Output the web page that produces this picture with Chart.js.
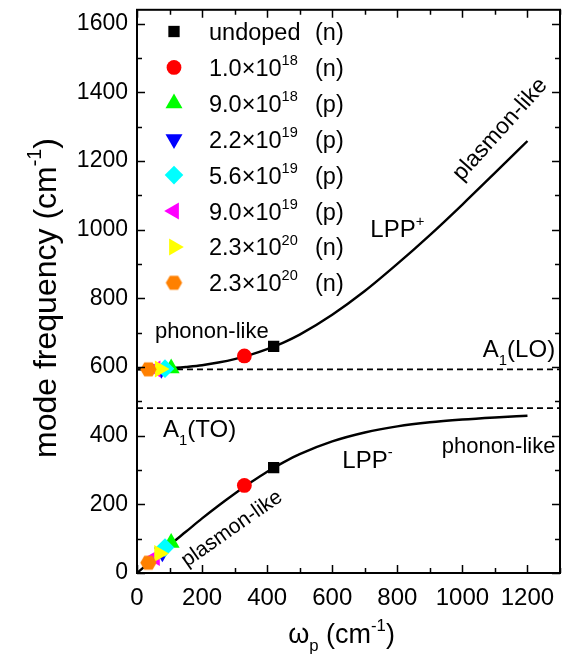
<!DOCTYPE html>
<html><head><meta charset="utf-8">
<script src="https://cdn.jsdelivr.net/npm/chart.js@4.4.0/dist/chart.umd.min.js"></script>
<style>html,body{margin:0;padding:0;background:#fff}#wrap{width:575px;height:660px;position:relative}</style>
</head><body><div id="wrap"><canvas id="c" width="575" height="660"></canvas></div>
<script>
// ---- data ----
const xTickLabels = ['0','200','400','600','800','1000','1200'];
const yTickLabels = ['0','200','400','600','800','1000','1200','1400','1600'];
const curveX   = [0, 50, 100, 150, 200, 250, 300, 350, 400, 450, 500, 600, 700, 800, 900, 1000, 1100, 1200];
const lppPlus  = [593, 594, 596, 600, 605, 613, 623, 636, 652, 671, 694, 752, 821, 900, 984, 1073, 1165, 1258];
const lppMinus = [0, 40, 81, 120, 159, 196, 231, 264, 295, 322, 346, 383, 409, 427, 439, 447, 453, 458];
const lineLO = 593;
const lineTO = 480;
const sampleBase = ['undoped', '1.0×10', '9.0×10', '2.2×10', '5.6×10', '9.0×10', '2.3×10', '2.3×10'];
const sampleExp  = ['', '18', '18', '19', '19', '19', '20', '20'];
const sampleType = ['(n)', '(n)', '(p)', '(p)', '(p)', '(p)', '(n)', '(n)'];
const plusX  = [420, 330, 105, 75, 86, 57, 70, 35];
const plusY  = [660, 632, 596, 594, 595, 594, 594, 593];
const minusX = [420, 330, 105, 78, 86, 55, 68, 35];
const minusY = [307, 255, 88, 60, 74, 45, 57, 30];

// ---- styles ----
const sampleColor = ['#000000', '#ff0000', '#00ff00', '#0000ff', '#00ffff', '#ff00ff', '#ffff00', '#ff8000'];
const FF = '"Liberation Sans", Arial, Helvetica, sans-serif';
const fnt = s => s + 'px ' + FF;

function hexCanvas(color, r) {
  const s = Math.ceil(2 * r + 2);
  const c = document.createElement('canvas'); c.width = s; c.height = s;
  const g = c.getContext('2d'); g.fillStyle = color; g.beginPath();
  for (let k = 0; k < 6; k++) { const a = Math.PI / 3 * k; g.lineTo(s / 2 + r * Math.cos(a), s / 2 + r * Math.sin(a)); }
  g.closePath(); g.fill(); return c;
}
const sampleStyle = [
  {pointStyle: 'rect', radius: 8, rotation: 0},
  {pointStyle: 'circle', radius: 7.4, rotation: 0},
  {pointStyle: 'triangle', radius: 9.8, rotation: 0},
  {pointStyle: 'triangle', radius: 9.8, rotation: 180},
  {pointStyle: 'rectRot', radius: 9.3, rotation: 0},
  {pointStyle: 'triangle', radius: 9.8, rotation: 270},
  {pointStyle: 'triangle', radius: 9.8, rotation: 90},
  {pointStyle: hexCanvas('#ff8000', 8.2), radius: 8.2, rotation: 0}
];

function partsWidth(ctx, parts, size) {
  let w = 0;
  for (const p of parts) { ctx.font = fnt(p[1] ? size * 0.62 : size); w += ctx.measureText(p[0]).width; }
  return w;
}
function drawParts(ctx, parts, x, y, size, align) {
  const w = partsWidth(ctx, parts, size);
  let cx = align === 'center' ? x - w / 2 : align === 'right' ? x - w : x;
  ctx.textAlign = 'left'; ctx.textBaseline = 'alphabetic'; ctx.fillStyle = '#000';
  for (const p of parts) {
    const m = p[1] || 0, s = m ? size * 0.62 : size;
    ctx.font = fnt(s);
    const dy = m === 1 ? -size * 0.46 : m === 2 ? size * 0.3 : 0;
    ctx.fillText(p[0], cx, y + dy);
    cx += ctx.measureText(p[0]).width;
  }
}

// annotations (data coordinates)
const notes = [
  {parts: [['phonon-like']], x: 55, y: 683, size: 22, align: 'left'},
  {parts: [['phonon-like']], x: 1286, y: 350, size: 22, align: 'right'},
  {parts: [['A'], ['1', 2], ['(LO)']], x: 1285, y: 628, size: 24, align: 'right'},
  {parts: [['A'], ['1', 2], ['(TO)']], x: 80, y: 395, size: 24, align: 'left'},
  {parts: [['LPP'], ['+', 1]], x: 717, y: 978, size: 24, align: 'left'},
  {parts: [['LPP'], ['-', 1]], x: 631, y: 307, size: 24, align: 'left'},
  {parts: [['plasmon-like']], x: 1112, y: 1295, size: 23, align: 'center', rot: -48},
  {parts: [['plasmon-like']], x: 289, y: 133, size: 21, align: 'center', rot: -35}
];

const decor = {
  id: 'decor',
  afterDatasetsDraw(chart) {
    const ctx = chart.ctx, a = chart.chartArea, xs = chart.scales.x, ys = chart.scales.y;
    ctx.save();
    ctx.strokeStyle = '#000'; ctx.lineWidth = 2;
    ctx.strokeRect(a.left, a.top, a.right - a.left, a.bottom - a.top);
    ctx.lineWidth = 1.5;
    ctx.beginPath();
    for (let v = 0; v <= 1300; v += 100) {
      const px = Math.round(xs.getPixelForValue(v)) + 0.5, L = v % 200 === 0 ? 8 : 5;
      ctx.moveTo(px, a.bottom); ctx.lineTo(px, a.bottom - L);
      ctx.moveTo(px, a.top); ctx.lineTo(px, a.top + L);
    }
    for (let v = 0; v <= 1600; v += 100) {
      const py = Math.round(ys.getPixelForValue(v)) + 0.5, L = v % 200 === 0 ? 8 : 5;
      ctx.moveTo(a.left, py); ctx.lineTo(a.left + L, py);
      ctx.moveTo(a.right, py); ctx.lineTo(a.right - L, py);
    }
    ctx.stroke();
    ctx.restore();
  },
  afterDraw(chart) {
    const ctx = chart.ctx, a = chart.chartArea, xs = chart.scales.x, ys = chart.scales.y;
    ctx.save();
    // legend
    for (let i = 0; i < sampleBase.length; i++) {
      const cy = 31.5 + i * 35.9, mx = 174;
      const st = sampleStyle[i];
      ctx.fillStyle = sampleColor[i]; ctx.strokeStyle = sampleColor[i];
      if (typeof st.pointStyle === 'string') {
        Chart.helpers.drawPoint(ctx, {pointStyle: st.pointStyle, radius: st.radius, rotation: st.rotation, borderWidth: 0}, mx, cy);
      } else {
        ctx.drawImage(st.pointStyle, mx - st.pointStyle.width / 2, cy - st.pointStyle.height / 2);
      }
      const base = cy + 8.5;
      const parts = [[sampleBase[i]]];
      if (sampleExp[i]) parts.push([sampleExp[i], 1]);
      drawParts(ctx, parts, 209, base, 23.5, 'left');
      drawParts(ctx, [[sampleType[i]]], 315, base, 23.5, 'left');
    }
    // annotations
    for (const n of notes) {
      const px = xs.getPixelForValue(n.x), py = ys.getPixelForValue(n.y);
      if (n.rot) {
        ctx.save(); ctx.translate(px, py); ctx.rotate(n.rot * Math.PI / 180);
        drawParts(ctx, n.parts, 0, n.size * 0.36, n.size, 'center');
        ctx.restore();
      } else drawParts(ctx, n.parts, px, py, n.size, n.align);
    }
    // axis titles
    drawParts(ctx, [['ω'], ['p', 2], [' (cm'], ['-1', 1], [')']], (a.left + a.right) / 2 - 7, 643, 27, 'center');
    ctx.save(); ctx.translate(56, 298); ctx.rotate(-Math.PI / 2);
    drawParts(ctx, [['mode frequency (cm'], ['-1', 1], [')']], 0, 0, 32, 'center');
    ctx.restore();
    ctx.restore();
  }
};

const datasets = [
  {data: curveX.map((x, i) => ({x, y: lppPlus[i]})), showLine: true, borderColor: '#000', borderWidth: 2.4, pointRadius: 0, cubicInterpolationMode: 'monotone', order: 30},
  {data: curveX.map((x, i) => ({x, y: lppMinus[i]})), showLine: true, borderColor: '#000', borderWidth: 2.4, pointRadius: 0, cubicInterpolationMode: 'monotone', order: 30},
  {data: [{x: 0, y: lineLO}, {x: 1300, y: lineLO}], showLine: true, borderColor: '#000', borderWidth: 1.7, borderDash: [6, 4], pointRadius: 0, order: 31},
  {data: [{x: 0, y: lineTO}, {x: 1300, y: lineTO}], showLine: true, borderColor: '#000', borderWidth: 1.7, borderDash: [6, 4], pointRadius: 0, order: 31}
];
for (let i = 0; i < sampleBase.length; i++) {
  const st = sampleStyle[i];
  datasets.push({
    data: [{x: plusX[i], y: plusY[i]}, {x: minusX[i], y: minusY[i]}],
    showLine: false, pointStyle: st.pointStyle, pointRadius: st.radius, pointRotation: st.rotation,
    pointBackgroundColor: sampleColor[i], pointBorderWidth: 0, pointBorderColor: sampleColor[i],
    pointHoverRadius: st.radius, order: 20 - i
  });
}

new Chart(document.getElementById('c'), {
  type: 'scatter',
  data: {datasets},
  options: {
    responsive: false, animation: false, events: [],
    layout: {padding: {left: 0, right: 15, top: 7, bottom: 0}},
    plugins: {legend: {display: false}, tooltip: {enabled: false}},
    scales: {
      x: {
        type: 'linear', min: 0, max: 1300,
        grid: {display: false, drawTicks: false}, border: {display: false},
        ticks: {stepSize: 100, includeBounds: false, autoSkip: false, maxRotation: 0, padding: 11, color: '#000', font: {family: FF, size: 24},
          callback: v => xTickLabels.includes(String(v)) ? String(v) : ''},
        afterFit: s => { s.height = 87; s.paddingLeft = 0; s.paddingRight = 0; }
      },
      y: {
        type: 'linear', min: 0, max: 1640,
        grid: {display: false, drawTicks: false}, border: {display: false},
        ticks: {stepSize: 100, includeBounds: false, autoSkip: false, padding: 9, color: '#000', font: {family: FF, size: 23},
          callback: v => yTickLabels.includes(String(v)) ? String(v) : ''},
        afterFit: s => { s.width = 137; s.paddingTop = 0; s.paddingBottom = 0; }
      }
    }
  },
  plugins: [decor]
});
</script></body></html>
